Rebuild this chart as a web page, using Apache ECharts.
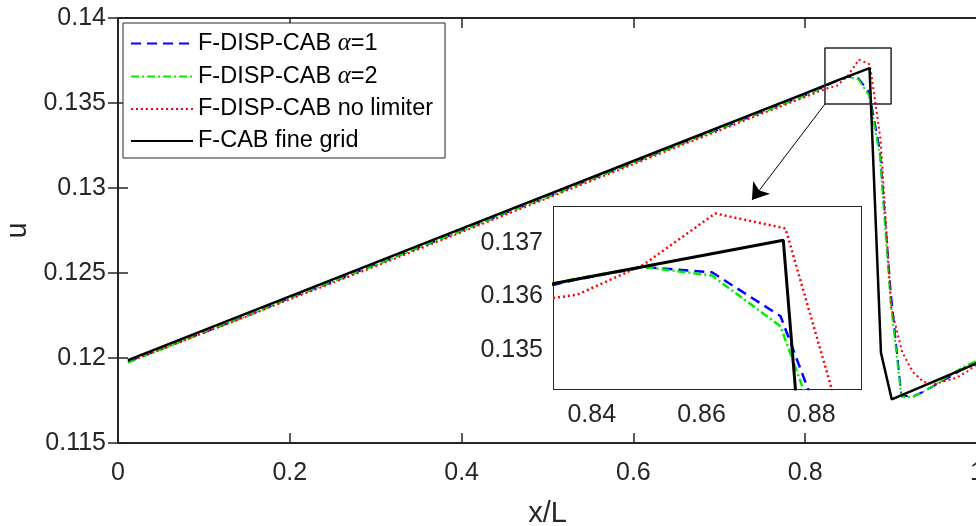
<!DOCTYPE html>
<html>
<head>
<meta charset="utf-8">
<script src="https://cdn.jsdelivr.net/npm/echarts@6/dist/echarts.min.js"></script>
<style>html,body{margin:0;padding:0;background:#fff;}#c{width:976px;height:526px;}</style>
</head>
<body>
<div id="c"></div>
<script>
// ---- data ----
const seriesNames = ['F-DISP-CAB α=1', 'F-DISP-CAB α=2', 'F-DISP-CAB no limiter', 'F-CAB fine grid'];

const xCoarse = [0.0116, 0.05, 0.1, 0.15, 0.2, 0.25, 0.3, 0.35, 0.4, 0.45, 0.5, 0.55, 0.6, 0.65, 0.7, 0.75, 0.8,
  0.8244, 0.8369, 0.8494, 0.8619, 0.8744, 0.8869, 0.8994, 0.9119, 0.9244, 0.9369, 0.9494, 0.9619, 0.9744, 0.9869, 0.9994];
const yAlpha1 = [0.11978, 0.12052, 0.12150, 0.12248, 0.12352, 0.12448, 0.12550, 0.12648, 0.12748, 0.12850, 0.12948, 0.13050, 0.13148, 0.13250, 0.13346, 0.13448, 0.13545,
  0.13600, 0.13631, 0.13655, 0.13645, 0.13563, 0.13224, 0.12400, 0.11782, 0.11771, 0.11800, 0.11835, 0.11871, 0.11906, 0.11947, 0.11976];
const yAlpha2 = [0.11972, 0.12050, 0.12152, 0.12246, 0.12350, 0.12450, 0.12546, 0.12650, 0.12746, 0.12852, 0.12946, 0.13048, 0.13150, 0.13246, 0.13348, 0.13446, 0.13543,
  0.13602, 0.13633, 0.13655, 0.13639, 0.13544, 0.13190, 0.12330, 0.11772, 0.11768, 0.11800, 0.11838, 0.11878, 0.11918, 0.11955, 0.11982];

const xRed = [0.0116, 0.05, 0.1, 0.15, 0.2, 0.25, 0.3, 0.35, 0.4, 0.45, 0.5, 0.55, 0.6, 0.65, 0.7, 0.75, 0.8,
  0.8244, 0.8373, 0.8494, 0.8625, 0.8753, 0.8878, 0.9003, 0.9128, 0.9253, 0.9378, 0.9503, 0.9628, 0.9753, 0.9878, 1.0003];
const yNoLimiter = [0.11980, 0.12050, 0.12148, 0.12245, 0.12345, 0.12442, 0.12540, 0.12640, 0.12740, 0.12840, 0.12940, 0.13040, 0.13140, 0.13240, 0.13338, 0.13438, 0.13535,
  0.13585, 0.13603, 0.13659, 0.13755, 0.13727, 0.13282, 0.12294, 0.12035, 0.11918, 0.11859, 0.11847, 0.11865, 0.11882, 0.11918, 0.11965];

const xFine = [0.0116, 0.2, 0.4, 0.6, 0.8, 0.8331, 0.8749, 0.8882, 0.9007, 1.0];
const yFine = [0.11988, 0.12363, 0.12761, 0.13159, 0.13557, 0.13624, 0.13705, 0.12031, 0.11757, 0.11970];

const mainXTicks = [0, 0.2, 0.4, 0.6, 0.8, 1];
const mainYTicks = [0.115, 0.12, 0.125, 0.13, 0.135, 0.14];
const insetXTicks = [0.84, 0.86, 0.88];
const insetYTicks = [0.135, 0.136, 0.137];
const insetXRange = [0.83312, 0.88906];
const insetYRange = [0.13427, 0.13767];

const zoomBoxX = [0.823, 0.900];
const zoomBoxY = [0.13494, 0.13824];
const arrowEnd = [0.738, 0.12929];

// ---- helpers ----
const zip = (xs, ys) => xs.map((x, i) => [x, ys[i]]);
const TXT = '#262626';
const FONT = 'Liberation Sans, Arial, Helvetica, sans-serif';

const styles = [
  { color: '#0000ff', type: [10, 6], width: 2 },
  { color: '#00ee00', type: [8, 3, 2, 3], width: 2 },
  { color: '#ff0000', type: [2, 3], width: 2 },
  { color: '#000000', type: 'solid', width: 2.5 }
];
const dataSets = [zip(xCoarse, yAlpha1), zip(xCoarse, yAlpha2), zip(xRed, yNoLimiter), zip(xFine, yFine)];

function axisCommon(extra) {
  return Object.assign({
    type: 'value',
    axisLine: { show: true, lineStyle: { color: TXT, width: 2 } },
    splitLine: { show: false },
    axisTick: { show: true, inside: true, length: 10, lineStyle: { color: TXT, width: 1.5 } },
    axisLabel: { color: TXT, fontSize: 25, fontFamily: FONT }
  }, extra);
}

const series = [];
// main grid series
for (let i = 0; i < 4; i++) {
  series.push({
    name: seriesNames[i], type: 'line', xAxisIndex: 0, yAxisIndex: 0,
    data: dataSets[i], symbol: 'none', showSymbol: false, clip: true,
    lineStyle: styles[i], itemStyle: { color: styles[i].color }, z: 3 + i, animation: false
  });
}
// inset series
for (let i = 0; i < 4; i++) {
  series.push({
    name: seriesNames[i], type: 'line', xAxisIndex: 2, yAxisIndex: 2,
    data: dataSets[i], symbol: 'none', showSymbol: false, clip: true,
    lineStyle: Object.assign({}, styles[i], { width: styles[i].width + 0.5 }),
    itemStyle: { color: styles[i].color }, z: 13 + i, animation: false
  });
}
// zoom box + arrow
series.push({
  name: 'zoombox', type: 'line', xAxisIndex: 0, yAxisIndex: 0, silent: true,
  data: [[zoomBoxX[0], zoomBoxY[0]], [zoomBoxX[1], zoomBoxY[0]], [zoomBoxX[1], zoomBoxY[1]], [zoomBoxX[0], zoomBoxY[1]], [zoomBoxX[0], zoomBoxY[0]]],
  symbol: 'none', lineStyle: { color: TXT, width: 1.5 }, z: 8, animation: false,
  markLine: {
    silent: true, animation: false, symbol: ['none', 'arrow'], symbolSize: 16,
    label: { show: false }, lineStyle: { color: '#000', width: 1, type: 'solid' },
    data: [[{ coord: [zoomBoxX[0], zoomBoxY[0]] }, { coord: arrowEnd }]]
  }
});

const option = {
  animation: false,
  backgroundColor: '#fff',
  textStyle: { fontFamily: FONT },
  grid: [
    { left: 118, top: 18, width: 859, height: 425, show: false, containLabel: false, outerBoundsMode: 'none' },
    { left: 554, top: 207, width: 307, height: 182, show: true, backgroundColor: '#fff', borderWidth: 0, z: 10, containLabel: false, outerBoundsMode: 'none' }
  ],
  legend: {
    data: seriesNames, orient: 'vertical', left: 123, top: 23,
    backgroundColor: '#fff', borderColor: TXT, borderWidth: 1, padding: [8, 12, 5, 7],
    itemWidth: 62, itemHeight: 14, itemGap: 8, z: 30,
    itemStyle: { opacity: 0, borderWidth: 0 },
    formatter: function (name) {
      const m = name.match(/^(.*?)α(.*)$/);
      if (m) return '{t|' + m[1] + '}{a|α}{t|' + m[2] + '}';
      return '{t|' + name + '}';
    },
    textStyle: {
      rich: {
        t: { fontSize: 23.5, fontFamily: FONT, color: '#000', lineHeight: 24 },
        a: { fontSize: 25, fontFamily: 'Liberation Serif, DejaVu Serif, serif', fontStyle: 'italic', color: '#000', lineHeight: 24 }
      }
    }
  },
  xAxis: [
    axisCommon({ gridIndex: 0, position: 'bottom', min: mainXTicks[0], max: mainXTicks[mainXTicks.length - 1], interval: 0.2,
      name: 'x/L', nameLocation: 'middle', nameGap: 56, nameTextStyle: { color: TXT, fontSize: 29, fontFamily: FONT },
      axisLabel: { color: TXT, fontSize: 25, fontFamily: FONT, margin: 18, showMaxLabel: true } }),
    axisCommon({ gridIndex: 0, position: 'top', min: mainXTicks[0], max: mainXTicks[mainXTicks.length - 1], interval: 0.2,
      axisLabel: { show: false } }),
    axisCommon({ gridIndex: 1, position: 'bottom', min: insetXRange[0], max: insetXRange[1],
      axisTick: { show: true, inside: true, length: 5, customValues: insetXTicks, lineStyle: { color: TXT, width: 1.5 } },
      axisLabel: { color: TXT, fontSize: 25, fontFamily: FONT, margin: 14, customValues: insetXTicks,
        formatter: v => v.toFixed(2) } }),
    axisCommon({ gridIndex: 1, position: 'top', min: insetXRange[0], max: insetXRange[1],
      axisTick: { show: true, inside: true, length: 5, customValues: insetXTicks, lineStyle: { color: TXT, width: 1.5 } },
      axisLabel: { show: false } })
  ],
  yAxis: [
    axisCommon({ gridIndex: 0, position: 'left', min: mainYTicks[0], max: mainYTicks[mainYTicks.length - 1], interval: 0.005,
      name: 'u', nameLocation: 'middle', nameGap: 84, nameRotate: 90, nameTextStyle: { color: TXT, fontSize: 29, fontFamily: FONT },
      axisLabel: { color: TXT, fontSize: 25, fontFamily: FONT, margin: 12, formatter: v => String(+v.toFixed(3)) } }),
    axisCommon({ gridIndex: 0, position: 'right', min: mainYTicks[0], max: mainYTicks[mainYTicks.length - 1], interval: 0.005,
      axisLabel: { show: false } }),
    axisCommon({ gridIndex: 1, position: 'left', min: insetYRange[0], max: insetYRange[1],
      axisTick: { show: true, inside: true, length: 5, customValues: insetYTicks, lineStyle: { color: TXT, width: 1.5 } },
      axisLabel: { color: TXT, fontSize: 25, fontFamily: FONT, margin: 11, customValues: insetYTicks,
        formatter: v => v.toFixed(3) } }),
    axisCommon({ gridIndex: 1, position: 'right', min: insetYRange[0], max: insetYRange[1],
      axisTick: { show: true, inside: true, length: 5, customValues: insetYTicks, lineStyle: { color: TXT, width: 1.5 } },
      axisLabel: { show: false } })
  ],
  series: series
};

const chart = echarts.init(document.getElementById('c'), null, { renderer: 'canvas' });
chart.setOption(option);
</script>
</body>
</html>
